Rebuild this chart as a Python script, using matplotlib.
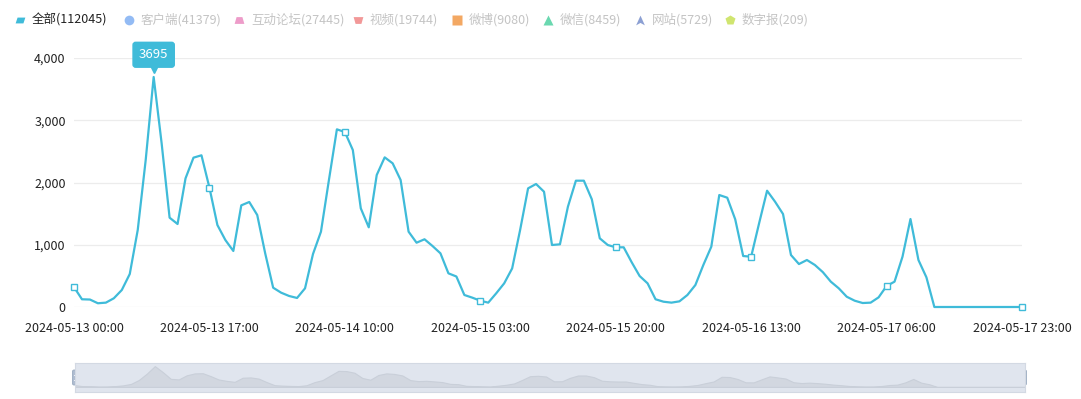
import matplotlib
matplotlib.use('Agg')
from matplotlib import pyplot as plt
from matplotlib.path import Path
from matplotlib.patches import FancyBboxPatch
from matplotlib.transforms import ScaledTranslation
import pandas as pd

plt.rcParams['font.family'] = ['Noto Sans CJK SC', 'DejaVu Sans']

# hourly counts, 2024-05-13 00:00 .. 2024-05-17 23:00
times = pd.date_range('2024-05-13 00:00', '2024-05-17 23:00', freq='h')
counts = [320, 124, 120, 60, 70, 140, 273, 530, 1237, 2361,
          3695, 2630, 1435, 1333, 2067, 2399, 2437, 1917, 1317, 1076,
          900, 1633, 1687, 1478, 862, 310, 230, 177, 145, 300,
          851, 1210, 2040, 2854, 2811, 2522, 1585, 1280, 2120, 2404,
          2308, 2040, 1210, 1033, 1088, 980, 862, 541, 490, 193,
          150, 101, 70, 220, 380, 620, 1237, 1906, 1976, 1852,
          996, 1007, 1611, 2029, 2029, 1730, 1103, 996, 959, 959,
          720, 498, 380, 124, 85, 70, 91, 193, 353, 675,
          969, 1799, 1756, 1409, 819, 808, 1345, 1868, 1692, 1494,
          835, 690, 755, 675, 560, 407, 300, 165, 101, 64,
          70, 155, 337, 407, 808, 1413, 755, 477, 0, 0,
          0, 0, 0, 0, 0, 0, 0, 0, 0, 0]

legend_names = ['全部(112045)', '客户端(41379)', '互动论坛(27445)', '视频(19744)',
                '微博(9080)', '微信(8459)', '网站(5729)', '数字报(209)']
legend_colors = ['#3fbbd9', '#78aaf2', '#e983bc', '#ef7f7f',
                 '#f0923c', '#45cf9c', '#7088c8', '#c5df4c']

W, H = 1081, 399
fig = plt.figure(figsize=(W / 100, H / 100), dpi=100)

def px(x0, y0, x1, y1):
    return [x0 / W, 1 - y1 / H, (x1 - x0) / W, (y1 - y0) / H]

line_c = '#3fbbd9'
x = list(range(len(counts)))

ax = fig.add_axes(px(74, 58, 1022, 307))
ax.plot(x, counts, color=line_c, lw=1.6, clip_on=False, zorder=3)
ax.plot(x, counts, ls='none', marker='s', ms=5, mfc='white', mec=line_c,
        mew=1.0, markevery=17, clip_on=False, zorder=4)
ax.set_xlim(0, len(counts) - 1)
ax.set_ylim(0, 4000)
ax.set_yticks([0, 1000, 2000, 3000, 4000])
ax.set_yticklabels(['0', '1,000', '2,000', '3,000', '4,000'])
ticks = list(range(0, len(counts), 17))
ax.set_xticks(ticks)
ax.set_xticklabels([times[i].strftime('%Y-%m-%d %H:%M') for i in ticks])
ax.tick_params(length=0, labelsize=9, colors='#222222')
ax.tick_params(axis='x', pad=11)
ax.tick_params(axis='y', pad=6)
for s in ax.spines.values():
    s.set_visible(False)
ax.grid(axis='y', color='#ececec', lw=0.9)
ax.set_axisbelow(True)

# peak label
peak = counts.index(max(counts))
ax.annotate(str(max(counts)), xy=(peak, max(counts)), xytext=(0, 16),
            textcoords='offset points', ha='center', va='center',
            color='white', fontsize=9.5, annotation_clip=False,
            bbox=dict(boxstyle='round,pad=0.45,rounding_size=0.2', fc=line_c, ec=line_c))
ax.plot([peak], [max(counts)], marker='v', ms=5, color=line_c, ls='none', clip_on=False, zorder=5,
        transform=ax.transData + ScaledTranslation(0, 5 / 72, fig.dpi_scale_trans))

# legend icons
def shape(verts):
    return Path(verts + [verts[0]], [Path.MOVETO] + [Path.LINETO] * (len(verts) - 1) + [Path.CLOSEPOLY])

icons = [shape([(-1, -0.6), (0.6, -0.6), (1, 0.6), (-0.6, 0.6)]),
         'o',
         shape([(-1, -0.7), (1, -0.7), (0.6, 0.7), (-0.6, 0.7)]),
         shape([(-1, 0.7), (1, 0.7), (0.6, -0.7), (-0.6, -0.7)]),
         's',
         '^',
         shape([(0, 1), (0.9, -1), (0, -0.5), (-0.9, -1)]),
         'p']
leg_x = [20, 129, 239, 358, 457, 548, 640, 730]
lax = fig.add_axes([0, 0, 1, 1])
lax.set_xlim(0, W)
lax.set_ylim(H, 0)
lax.axis('off')
for i, (nm, c, m, lx) in enumerate(zip(legend_names, legend_colors, icons, leg_x)):
    a = 1.0 if i == 0 else 0.8
    lax.plot([lx], [20], marker=m, ms=7, color=c, mec='none', alpha=a, ls='none')
    lax.text(lx + 12, 20, nm, va='center', ha='left', fontsize=9,
             color='#222222' if i == 0 else '#c4c4c4')

# data zoom slider
sax = fig.add_axes(px(75, 363, 1025, 392))
sax.set_facecolor('#e0e5ee')
sax.fill_between(x, counts, 0, color='#d2d7e0', lw=0.8, edgecolor='#c9cfd9')
sax.set_xlim(0, len(counts) - 1)
sax.set_ylim(-900, max(counts) * 1.15)
sax.set_xticks([])
sax.set_yticks([])
for s in sax.spines.values():
    s.set_color('#d3d9e3')
for hx in [75, 1024]:
    lax.add_patch(FancyBboxPatch((hx - 2.5, 370), 5, 15, boxstyle='round,pad=0,rounding_size=1.5',
                                 fc='#aebcd0', ec='#9aaac0', lw=0.6))
    lax.plot([hx - 1, hx + 1], [375, 375], color='white', lw=0.6)
    lax.plot([hx - 1, hx + 1], [380, 380], color='white', lw=0.6)

fig.savefig('out.png', dpi=100)
